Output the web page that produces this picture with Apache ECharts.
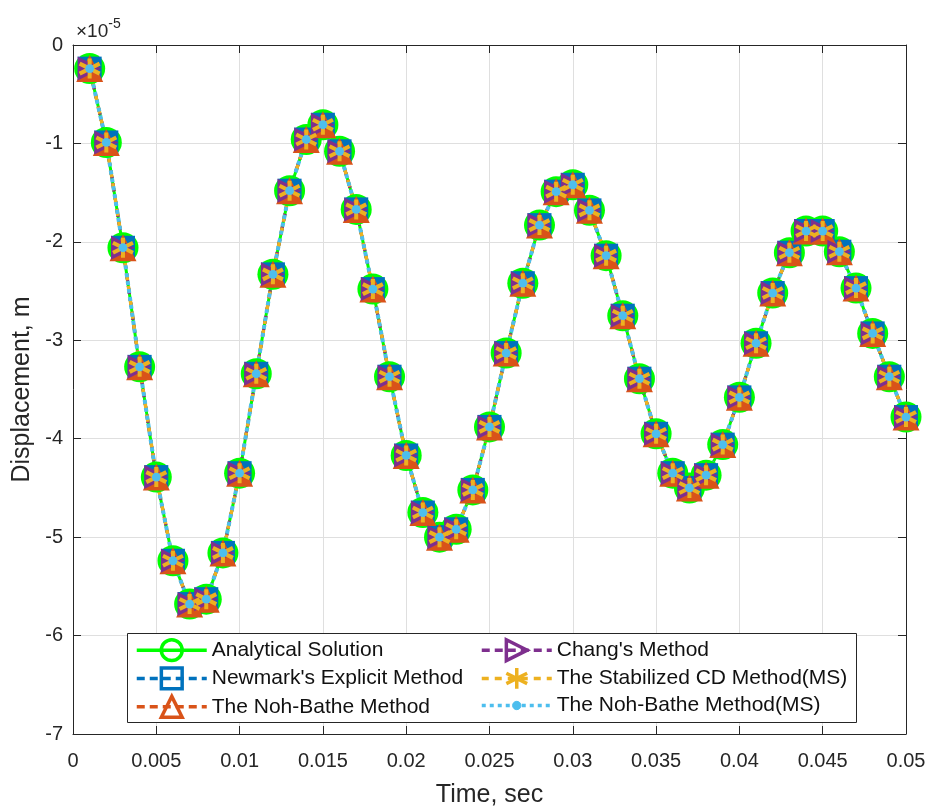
<!DOCTYPE html>
<html>
<head>
<meta charset="utf-8">
<title>Displacement response</title>
<script src="https://cdn.jsdelivr.net/npm/echarts@6/dist/echarts.min.js"></script>
<style>
  html, body { margin: 0; padding: 0; background: #ffffff; }
  #chart { width: 931px; height: 810px; }
</style>
</head>
<body>
<div id="chart"></div>
<script>
// Time samples (s)
const timeSec = [
  0.001, 0.002, 0.003, 0.004, 0.005, 0.006, 0.007, 0.008, 0.009, 0.010,
  0.011, 0.012, 0.013, 0.014, 0.015, 0.016, 0.017, 0.018, 0.019, 0.020,
  0.021, 0.022, 0.023, 0.024, 0.025, 0.026, 0.027, 0.028, 0.029, 0.030,
  0.031, 0.032, 0.033, 0.034, 0.035, 0.036, 0.037, 0.038, 0.039, 0.040,
  0.041, 0.042, 0.043, 0.044, 0.045, 0.046, 0.047, 0.048, 0.049, 0.050
];

// Displacement in units of 1e-5 m; the six schemes coincide at this scale
const displacement = [
  -0.24, -0.99, -2.06, -3.27, -4.39, -5.24, -5.68, -5.63, -5.16, -4.35,
  -3.34, -2.33, -1.48, -0.96, -0.81, -1.08, -1.67, -2.48, -3.37, -4.17,
  -4.75, -5.00, -4.92, -4.52, -3.88, -3.13, -2.42, -1.83, -1.49, -1.42,
  -1.68, -2.14, -2.75, -3.39, -3.95, -4.35, -4.50, -4.37, -4.06, -3.58,
  -3.03, -2.52, -2.11, -1.89, -1.89, -2.10, -2.47, -2.93, -3.37, -3.78
];

const seriesNames = [
  'Analytical Solution',
  "Newmark's Explicit Method",
  'The Noh-Bathe Method',
  "Chang's Method",
  'The Stabilized CD Method(MS)',
  'The Noh-Bathe Method(MS)'
];

const xTickLabels = ['0', '0.005', '0.01', '0.015', '0.02', '0.025', '0.03', '0.035', '0.04', '0.045', '0.05'];
const yTickLabels = ['-7', '-6', '-5', '-4', '-3', '-2', '-1', '0'];

const FONT = '"Liberation Sans", Arial, Helvetica, sans-serif';
const INK = '#262626';
const GREEN = '#00ff00';
const BLUE = '#0072bd';
const ORANGE = '#d95319';
const YELLOW = '#edb120';
const PURPLE = '#7e2f8e';
const CYAN = '#4dbeee';

// Marker shapes
const ASTERISK = 'path://M10,0 L10,20 M1.3,5 L18.7,15 M1.3,15 L18.7,5';
const TRI_RIGHT = 'path://M0,0 L18,10 L0,20 Z';
// small dot inside a 20x20 box (the two moves fix the box size)
const DOT = 'path://M0,0 M20,20 M10,6 A4,4 0 1 1 10,14 A4,4 0 1 1 10,6 Z';

const points = timeSec.map((t, i) => [t, displacement[i]]);

function lineSeries(name, symbol, size, color, lineType, lineWidth, itemStyle) {
  return {
    name: name,
    type: 'line',
    data: points,
    symbol: symbol,
    symbolSize: size,
    showAllSymbol: true,
    xAxisIndex: 0,
    yAxisIndex: 0,
    lineStyle: { color: color, width: lineWidth, type: lineType },
    itemStyle: Object.assign({ color: color, opacity: 1 }, itemStyle || {}),
    emphasis: { disabled: true },
    animation: false
  };
}

const series = [
  lineSeries(seriesNames[0], 'circle', 31, GREEN, 'solid', 3, { borderWidth: 0 }),
  lineSeries(seriesNames[1], 'rect', 24, BLUE, [8, 5], 3, { borderWidth: 0 }),
  lineSeries(seriesNames[2], 'triangle', 27, ORANGE, [8, 5], 3, { borderWidth: 0 }),
  lineSeries(seriesNames[3], TRI_RIGHT, 24, PURPLE, [8, 5], 3, { borderWidth: 0 }),
  lineSeries(seriesNames[4], ASTERISK, 20, YELLOW, [7, 6], 3.5, { color: 'transparent', borderColor: YELLOW, borderWidth: 4 }),
  lineSeries(seriesNames[5], DOT, 22, CYAN, [4, 4], 4, { borderWidth: 0 })
];

function hollow(name, color) {
  return { name: name, itemStyle: { color: 'transparent', borderColor: color, borderWidth: 3.5 } };
}

const legendCommon = {
  orient: 'vertical',
  top: 638,
  itemWidth: 70,
  itemHeight: 26,
  itemGap: 4,
  padding: 0,
  selectedMode: false,
  textStyle: { fontFamily: FONT, fontSize: 21, color: '#111111' },
  lineStyle: { width: 3.5 }
};

const chart = echarts.init(document.getElementById('chart'), null, { renderer: 'canvas' });

chart.setOption({
  backgroundColor: '#ffffff',
  animation: false,
  textStyle: { fontFamily: FONT },
  title: {
    left: 76,
    top: 17,
    padding: 0,
    text: '{a|×10}{b|-5}',
    textStyle: {
      fontWeight: 'normal',
      rich: {
        a: { fontFamily: FONT, fontSize: 19, fontWeight: 'normal', color: INK, lineHeight: 24, verticalAlign: 'bottom' },
        b: { fontFamily: FONT, fontSize: 14, fontWeight: 'normal', color: INK, lineHeight: 24, verticalAlign: 'top' }
      }
    }
  },
  grid: {
    left: 73,
    top: 45,
    right: 25,
    bottom: 76,
    containLabel: false,
    outerBoundsMode: 'none'
  },
  legend: [
    Object.assign({}, legendCommon, {
      left: 135,
      data: [
        hollow(seriesNames[0], GREEN),
        hollow(seriesNames[1], BLUE),
        hollow(seriesNames[2], ORANGE)
      ]
    }),
    Object.assign({}, legendCommon, {
      left: 480,
      data: [
        hollow(seriesNames[3], PURPLE),
        hollow(seriesNames[4], YELLOW),
        { name: seriesNames[5], itemStyle: { color: CYAN, borderColor: CYAN, borderWidth: 1 } }
      ]
    })
  ],
  graphic: [{
    type: 'rect',
    z: 3,
    shape: { x: 127.5, y: 633.5, width: 729, height: 89 },
    style: { fill: '#ffffff', stroke: INK, lineWidth: 1 }
  }],
  xAxis: [{
    type: 'value',
    min: 0,
    max: 0.05,
    interval: 0.005,
    name: 'Time, sec',
    nameLocation: 'middle',
    nameGap: 49,
    nameTextStyle: { fontFamily: FONT, fontSize: 25, color: INK },
    axisLine: { show: true, onZero: false, lineStyle: { color: INK, width: 1 } },
    axisTick: { show: true, inside: true, length: 8, lineStyle: { color: INK } },
    axisLabel: {
      margin: 17,
      fontFamily: FONT,
      fontSize: 20,
      color: INK,
      formatter: v => xTickLabels[Math.round(v / 0.005)]
    },
    splitLine: { show: true, lineStyle: { color: '#dfdfdf', width: 1 } }
  }, {
    type: 'value',
    position: 'top',
    min: 0,
    max: 0.05,
    interval: 0.005,
    axisLine: { show: true, onZero: false, lineStyle: { color: INK, width: 1 } },
    axisTick: { show: true, inside: true, length: 8, lineStyle: { color: INK } },
    axisLabel: { show: false },
    splitLine: { show: false }
  }],
  yAxis: [{
    type: 'value',
    min: -7,
    max: 0,
    interval: 1,
    name: 'Displacement, m',
    nameLocation: 'middle',
    nameGap: 38,
    nameTextStyle: { fontFamily: FONT, fontSize: 25, color: INK },
    axisLine: { show: true, onZero: false, lineStyle: { color: INK, width: 1 } },
    axisTick: { show: true, inside: true, length: 8, lineStyle: { color: INK } },
    axisLabel: {
      margin: 10,
      fontFamily: FONT,
      fontSize: 20,
      color: INK,
      formatter: v => yTickLabels[Math.round(v + 7)]
    },
    splitLine: { show: true, lineStyle: { color: '#dfdfdf', width: 1 } }
  }, {
    type: 'value',
    position: 'right',
    min: -7,
    max: 0,
    interval: 1,
    axisLine: { show: true, onZero: false, lineStyle: { color: INK, width: 1 } },
    axisTick: { show: true, inside: true, length: 8, lineStyle: { color: INK } },
    axisLabel: { show: false },
    splitLine: { show: false }
  }],
  series: series
});
</script>
</body>
</html>
